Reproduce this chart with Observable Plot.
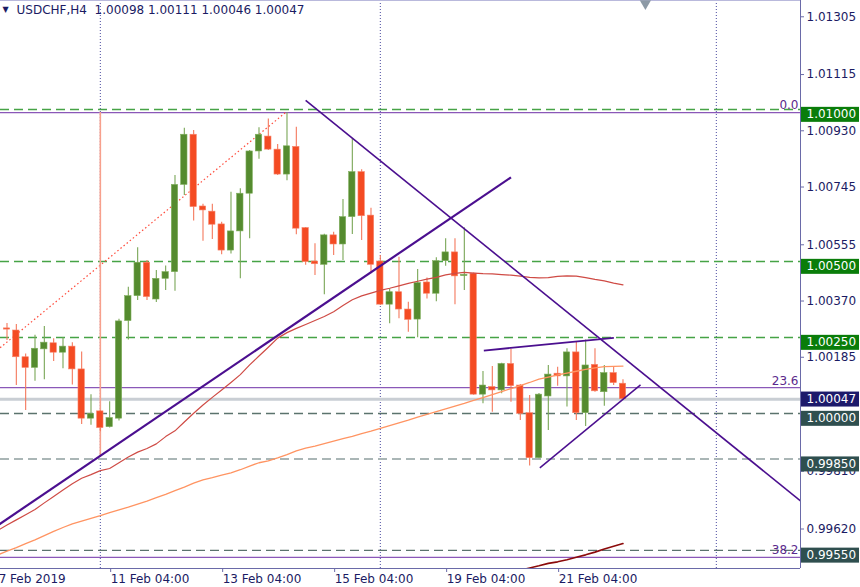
<!DOCTYPE html>
<html><head><meta charset="utf-8">
<script src="https://cdn.jsdelivr.net/npm/d3@7"></script>
<script src="https://cdn.jsdelivr.net/npm/@observablehq/plot@0.6"></script>
<style>
html,body{margin:0;padding:0;background:#fff;}
#chart{position:relative;width:860px;height:587px;overflow:hidden;}
</style></head><body><div id="chart"></div>
<script>
// ---------- data ----------
const titleText = "USDCHF,H4\u00a0\u00a01.00098 1.00111 1.00046 1.00047";
const openP  = [1.00280,1.00273,1.00185,1.00150,1.00211,1.00231,1.00200,1.00220,1.00145,0.99983,1.00007,0.99955,0.99983,1.00304,1.00386,1.00496,1.00375,1.00443,1.00465,1.00752,1.00917,1.00681,1.00664,1.00622,1.00536,1.00599,1.00723,1.00862,1.00911,1.00868,1.00786,1.00877,1.00610,1.00500,1.00489,1.00586,1.00556,1.00646,1.00794,1.00651,1.00500,1.00358,1.00399,1.00342,1.00309,1.00431,1.00394,1.00501,1.00530,1.00452,1.00460,1.00062,1.00087,1.00076,1.00163,1.00092,1.00001,0.99853,1.00056,1.00131,1.00122,1.00201,1.00001,1.00160,1.00070,1.00133,1.00098];
const highP  = [1.00296,1.00293,1.00196,1.00257,1.00286,1.00246,1.00249,1.00233,1.00202,1.00062,1.00010,1.00039,1.00310,1.00415,1.00545,1.00503,1.00470,1.00485,1.00783,1.00938,1.00931,1.00688,1.00688,1.00629,1.00728,1.00739,1.00865,1.00940,1.00969,1.00885,1.00989,1.00942,1.00612,1.00558,1.00590,1.00596,1.00704,1.00904,1.00802,1.00675,1.00520,1.00410,1.00514,1.00366,1.00474,1.00446,1.00512,1.00575,1.00575,1.00611,1.00462,1.00138,1.00155,1.00165,1.00211,1.00095,1.00059,1.00066,1.00158,1.00152,1.00213,1.00235,1.00242,1.00213,1.00158,1.00155,1.00111];
const lowP   = [1.00240,1.00092,1.00010,1.00106,1.00111,1.00171,1.00147,1.00094,0.99964,0.99961,0.99940,0.99952,0.99975,1.00242,1.00372,1.00372,1.00365,1.00405,1.00402,1.00717,1.00633,1.00567,1.00572,1.00522,1.00525,1.00443,1.00575,1.00836,1.00865,1.00783,1.00766,1.00588,1.00488,1.00454,1.00391,1.00520,1.00503,1.00589,1.00569,1.00460,1.00355,1.00295,1.00312,1.00267,1.00249,1.00377,1.00368,1.00484,1.00358,1.00405,1.00060,1.00032,1.00004,1.00065,1.00037,0.99977,0.99827,0.99851,0.99944,1.00090,1.00021,0.99977,0.99957,1.00070,1.00024,1.00092,1.00046];
const closeP = [1.00276,1.00185,1.00150,1.00213,1.00233,1.00200,1.00220,1.00145,0.99983,0.99999,0.99952,0.99985,1.00303,1.00386,1.00496,1.00383,1.00443,1.00465,1.00752,1.00917,1.00679,1.00668,1.00621,1.00536,1.00599,1.00723,1.00862,1.00917,1.00868,1.00786,1.00879,1.00608,1.00498,1.00491,1.00586,1.00556,1.00646,1.00794,1.00649,1.00489,1.00358,1.00399,1.00342,1.00308,1.00429,1.00394,1.00501,1.00530,1.00451,1.00456,1.00062,1.00092,1.00076,1.00163,1.00090,0.99999,0.99853,1.00062,1.00128,1.00122,1.00201,1.00001,1.00158,1.00073,1.00133,1.00100,1.00047];

// moving averages (first value belongs to bar maXStart)
const maRedStart = -1;
const maRed = [0.99615,0.99633,0.99650,0.99667,0.99684,0.99706,0.99727,0.99748,0.99769,0.99787,0.99799,0.99812,0.99819,0.99838,0.99857,0.99873,0.99885,0.99900,0.99924,0.99943,0.99972,1.00001,1.00028,1.00053,1.00077,1.00102,1.00128,1.00160,1.00189,1.00218,1.00248,1.00266,1.00280,1.00293,1.00306,1.00319,1.00335,1.00355,1.00374,1.00387,1.00396,1.00405,1.00412,1.00420,1.00428,1.00435,1.00442,1.00448,1.00456,1.00461,1.00464,1.00462,1.00460,1.00459,1.00457,1.00455,1.00452,1.00448,1.00446,1.00447,1.00451,1.00453,1.00452,1.00447,1.00441,1.00436,1.00429,1.00423];
const maOrangeStart = -1;
const maOrange = [0.99535,0.99547,0.99559,0.99572,0.99584,0.99598,0.99612,0.99625,0.99637,0.99646,0.99655,0.99664,0.99674,0.99683,0.99692,0.99702,0.99712,0.99723,0.99734,0.99746,0.99758,0.99771,0.99782,0.99789,0.99797,0.99805,0.99815,0.99827,0.99838,0.99844,0.99854,0.99865,0.99877,0.99886,0.99893,0.99901,0.99909,0.99917,0.99925,0.99934,0.99942,0.99951,0.99960,0.99969,0.99978,0.99988,0.99997,1.00006,1.00015,1.00024,1.00033,1.00043,1.00052,1.00062,1.00072,1.00082,1.00092,1.00102,1.00113,1.00120,1.00127,1.00133,1.00139,1.00145,1.00150,1.00154,1.00155,1.00156];
const maMaroonStart = 54;
const maMaroon = [0.99477,0.99484,0.99492,0.99499,0.99507,0.99512,0.99519,0.99527,0.99535,0.99544,0.99554,0.99563,0.99572];

// axes
const priceTicks = [1.01305,1.01115,1.00930,1.00745,1.00555,1.00370,1.00185,0.99810,0.99620];
const dateTickBars = [-1, 11, 23, 35, 47, 59];
const dateTickLabels = ["7 Feb 2019","11 Feb 04:00","13 Feb 04:00","15 Feb 04:00","19 Feb 04:00","21 Feb 04:00"];
const viewBars = [-0.696, 85.02];
const viewPrices = [0.994901, 1.013586];
const separatorBars = [10, 40, 76];

// horizontal levels
const greenLevels = [1.01000, 1.00500, 1.00250];
const slateLevels = [1.00000, 0.99550];
const greyLevels = [0.99850];
const bidPrice = 1.00047;
const fibNames = ["0.0", "23.6", "38.2"];
const fibPrices = [1.00990, 1.00085, 0.99527];

// drawn objects: [bar1, price1, bar2, price2]
const trendLines = [
  [-2, 0.99611, 54, 1.00777],
  [32, 1.01030, 86, 0.99688],
  [51.09, 1.00207, 65.02, 1.00249],
  [57.09, 0.99821, 67.88, 1.00094]
];
const trendWidths = [2.2, 1.6, 1.8, 1.5];
const fibDiagonal = [-10, 0.99982, 29.84, 1.00990];
const markerLine = [10, 1.00990, 0.99856];
const shiftMarkerBar = [68.4];

// ---------- build ----------
const candles = openP.map((o, i) => ({i, o, h: highP[i], l: lowP[i], c: closeP[i], up: closeP[i] >= o}));
const seriesOf = (arr, start) => arr.map((v, j) => ({x: start + j, y: v}));
const fmt5 = d => d.toFixed(5);
const navy = "#1b1b63";

const plot = Plot.plot({
  width: 860, height: 587,
  marginLeft: 0, marginRight: 60, marginTop: 0, marginBottom: 19,
  style: {fontFamily: "DejaVu Sans, sans-serif", fontSize: "12px", background: "#ffffff", overflow: "hidden"},
  x: {domain: viewBars, axis: null},
  y: {domain: viewPrices, axis: null},
  marks: [
    Plot.ruleX(separatorBars, {stroke: "#4a4aa0", strokeDasharray: "1,2", strokeWidth: 1}),
    Plot.ruleY(greenLevels, {stroke: "#46a346", strokeDasharray: "9,5", strokeWidth: 1.3}),
    Plot.ruleY(slateLevels, {stroke: "#5b736d", strokeDasharray: "9,5", strokeWidth: 1.3}),
    Plot.ruleY(greyLevels, {stroke: "#aab6b6", strokeDasharray: "9,5", strokeWidth: 2}),
    Plot.ruleY([bidPrice], {stroke: "#c9ced4", strokeWidth: 3}),
    Plot.ruleY(fibPrices, {stroke: "#8a58b8", strokeWidth: 1.2}),
    Plot.link([fibDiagonal], {x1: d => d[0], y1: d => d[1], x2: d => d[2], y2: d => d[3], stroke: "#ff4a3a", strokeDasharray: "1.5,2.5", strokeWidth: 1.2, clip: true}),
    Plot.ruleX([markerLine], {x: d => d[0], y1: d => d[1], y2: d => d[2], stroke: "#f7a08c", strokeWidth: 1.6}),
    Plot.ruleX(candles, {x: "i", y1: "l", y2: "h", stroke: d => d.up ? "#79a656" : "#f4785c", strokeWidth: 1.1}),
    Plot.rect(candles, {x1: d => d.i - 0.34, x2: d => d.i + 0.34, y1: d => Math.min(d.o, d.c), y2: d => Math.max(d.o, d.c), fill: d => d.up ? "#558b2f" : "#f44b23", stroke: d => d.up ? "#7fae5c" : "#f7836a", strokeWidth: 0.6}),
    Plot.line(seriesOf(maOrange, maOrangeStart), {x: "x", y: "y", stroke: "#ff9462", strokeWidth: 1.3, clip: true}),
    Plot.line(seriesOf(maRed, maRedStart), {x: "x", y: "y", stroke: "#cf4b45", strokeWidth: 1.2, clip: true}),
    Plot.line(seriesOf(maMaroon, maMaroonStart), {x: "x", y: "y", stroke: "#8b0a0a", strokeWidth: 1.6, clip: true}),
    Plot.link(trendLines, {x1: d => d[0], y1: d => d[1], x2: d => d[2], y2: d => d[3], stroke: "#4b0f8f", strokeWidth: (d, i) => trendWidths[i], clip: true}),
    Plot.ruleY([viewPrices[1]], {stroke: "#b9b9dc", strokeWidth: 1}),
    Plot.ruleY([viewPrices[0]], {stroke: "#6a6aa8", strokeWidth: 1}),
    Plot.ruleX([viewBars[1]], {stroke: "#6a6aa8", strokeWidth: 1}),
    Plot.axisY(priceTicks, {anchor: "right", tickSize: 3, tickPadding: 3, tickFormat: fmt5, fontSize: 12, color: navy, stroke: "#6a6aa8"}),
    Plot.axisX(dateTickBars, {anchor: "bottom", tickSize: 4, tickPadding: 2, tickFormat: d => dateTickLabels[dateTickBars.indexOf(d)], textAnchor: "start", dx: 1, fontSize: 12, color: navy, stroke: "#6a6aa8"}),
    Plot.text(fibPrices, {y: d => d, text: (d, i) => fibNames[i], frameAnchor: "right", dx: -2, dy: -7, textAnchor: "end", fill: "#5b2a8c", fontSize: 12}),
    Plot.text(greenLevels, {y: d => d, text: fmt5, frameAnchor: "right", dx: 6, dy: 5, textAnchor: "start", fill: "#ffffff", fontSize: 12, className: "box-green"}),
    Plot.text([...slateLevels, ...greyLevels], {y: d => d, text: fmt5, frameAnchor: "right", dx: 6, dy: 5, textAnchor: "start", fill: "#ffffff", fontSize: 12, className: "box-slate"}),
    Plot.text([bidPrice], {y: d => d, text: fmt5, frameAnchor: "right", dx: 6, dy: 0, textAnchor: "start", fill: "#ffffff", fontSize: 12, className: "box-navy"}),
    Plot.text([titleText], {frameAnchor: "top-left", dx: 16, dy: 5, textAnchor: "start", fill: navy, fontSize: 12}),
    Plot.text(["\u25BC"], {frameAnchor: "top-left", dx: 2, dy: 6, textAnchor: "start", fill: navy, fontSize: 8}),
    Plot.dot(shiftMarkerBar, {x: d => d, frameAnchor: "top", dy: 3, symbol: "triangle", rotate: 180, r: 4.2, fill: "#8d9aa6", stroke: "none"})
  ]
});

document.getElementById("chart").appendChild(plot);

// background boxes behind the price labels
const boxColors = {"box-green": "#0a7d0a", "box-slate": "#2f4f4f", "box-navy": "#1d1a6b"};
for (const [cls, col] of Object.entries(boxColors)) {
  d3.select(plot).selectAll("g." + cls + " text").each(function () {
    const b = this.getBBox();
    const m = this.getCTM();
    const tx = m ? m.e : 0;
    d3.select(this.parentNode).insert("rect", () => this)
      .attr("x", 801 - tx).attr("width", 58)
      .attr("y", b.y - 0.5).attr("height", b.height + 1)
      .attr("transform", this.getAttribute("transform"))
      .attr("fill", col);
  });
}
</script>
</body></html>
